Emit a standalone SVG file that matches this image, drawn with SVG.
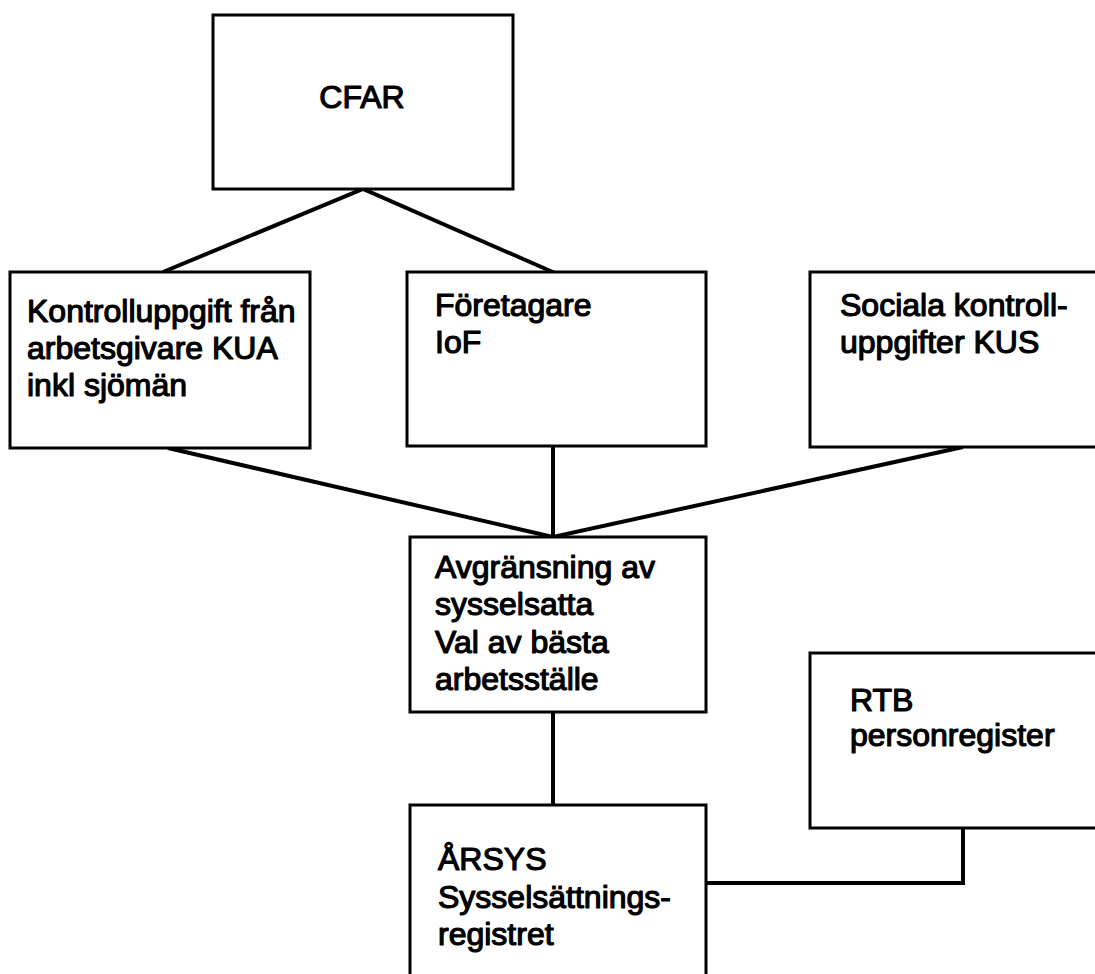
<svg xmlns="http://www.w3.org/2000/svg" width="1095" height="974" viewBox="0 0 1095 974">
<style>
.box{fill:#fff;stroke:#000;stroke-width:3}
.lbl{font-family:"Liberation Sans",Arial,Helvetica,sans-serif;font-size:32px;fill:#000;stroke:#000;stroke-width:1.2;stroke-linejoin:round}
.con{fill:none;stroke:#000;stroke-width:4;stroke-linejoin:miter}
</style>
<rect width="1095" height="974" fill="#fff"/>
<g id="connectors">
<polyline class="con" points="163,272 363,189 555,273"/>
<polyline class="con" points="168,448 553,537 963,447"/>
<line class="con" x1="553" y1="446" x2="553" y2="537"/>
<line class="con" x1="553" y1="712" x2="553" y2="805"/>
<polyline class="con" points="706,883 963,883 963,828"/>
</g>
<g id="cfar">
<rect class="box" x="213" y="15" width="300" height="174"/>
<text class="lbl" x="362" y="108" text-anchor="middle">CFAR</text>
</g>
<g id="kua">
<rect class="box" x="10" y="272" width="300" height="176"/>
<text class="lbl" x="27" y="322">Kontrolluppgift från</text>
<text class="lbl" x="27" y="359">arbetsgivare KUA</text>
<text class="lbl" x="27" y="396">inkl sjömän</text>
</g>
<g id="iof">
<rect class="box" x="407" y="272" width="299" height="174"/>
<text class="lbl" x="435" y="316">Företagare</text>
<text class="lbl" x="435" y="353">IoF</text>
</g>
<g id="kus">
<rect class="box" x="810" y="272" width="300" height="175"/>
<text class="lbl" x="840" y="316">Sociala kontroll-</text>
<text class="lbl" x="840" y="353">uppgifter KUS</text>
</g>
<g id="avgransning">
<rect class="box" x="410" y="537" width="296" height="175"/>
<text class="lbl" x="435" y="578">Avgränsning av</text>
<text class="lbl" x="435" y="615">sysselsatta</text>
<text class="lbl" x="435" y="653">Val av bästa</text>
<text class="lbl" x="435" y="690">arbetsställe</text>
</g>
<g id="rtb">
<rect class="box" x="810" y="653" width="300" height="175"/>
<text class="lbl" x="850" y="711">RTB</text>
<text class="lbl" x="850" y="746">personregister</text>
</g>
<g id="arsys">
<rect class="box" x="410" y="805" width="296" height="190"/>
<text class="lbl" x="438" y="870">ÅRSYS</text>
<text class="lbl" x="438" y="908">Sysselsättnings-</text>
<text class="lbl" x="438" y="945">registret</text>
</g>
</svg>
